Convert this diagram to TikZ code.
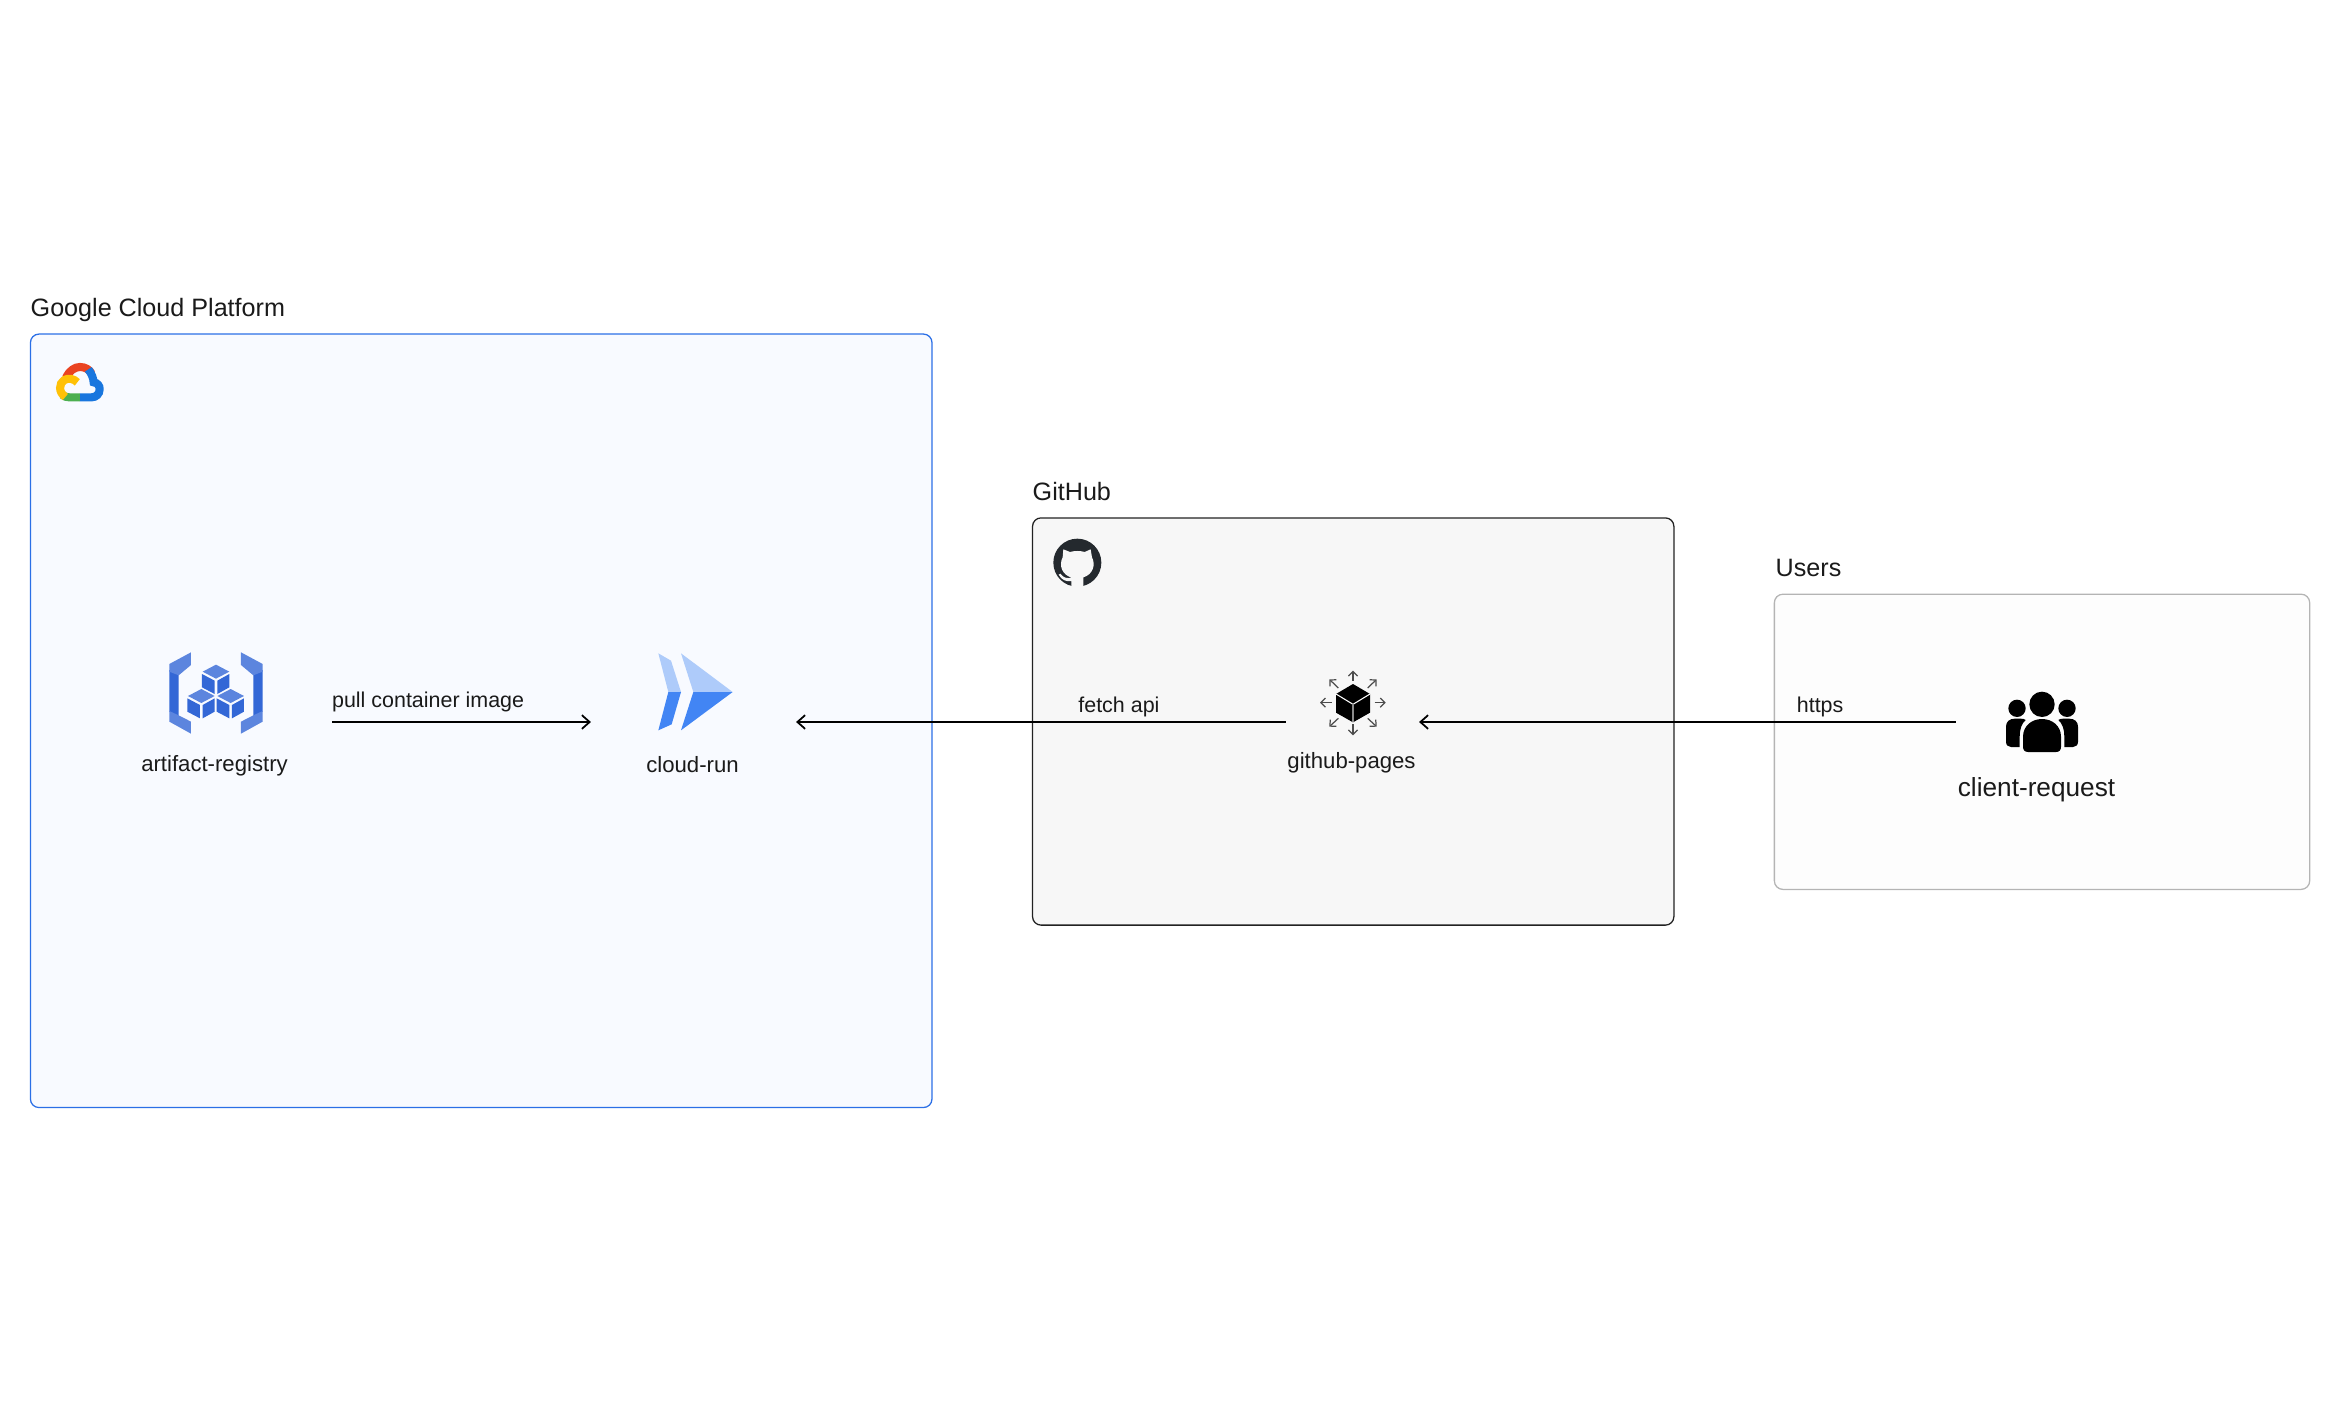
\documentclass[tikz,border=0pt]{standalone}
\usepackage{fontspec}
\setmainfont{Liberation Sans}
\usetikzlibrary{arrows.meta}
\definecolor{gcpfill}{HTML}{F8FAFF}
\definecolor{gcpline}{HTML}{2B6FE6}
\definecolor{hubfill}{HTML}{F7F7F7}
\definecolor{hubline}{HTML}{222222}
\definecolor{hubdark}{HTML}{24292E}
\definecolor{userline}{HTML}{B4B4B4}
\definecolor{userfill}{HTML}{FDFDFD}
\definecolor{artdark}{HTML}{3367D6}
\definecolor{artlight}{HTML}{5C85DE}
\definecolor{runlight}{HTML}{AECBFA}
\definecolor{runblue}{HTML}{4285F4}
\definecolor{textcol}{HTML}{1A1A1A}
\begin{document}
\begin{tikzpicture}[x=0.01cm,y=-0.01cm,
	groupbox/.style={rectangle, rounded corners=0.085cm, line width=0.36pt, inner sep=0pt, outer sep=0pt},
	grouptitle/.style={anchor=west, inner sep=0pt, text=textcol, font=\fontsize{7.15}{9}\selectfont},
	iconbox/.style={rectangle, minimum height=1pt, inner sep=0pt, outer sep=0pt},
	iconlabel/.style={inner sep=0pt, text=textcol, font=\fontsize{6.3}{8}\selectfont},
	linklabel/.style={inner sep=0pt, text=textcol, font=\fontsize{6.1}{8}\selectfont},
	icon/.style={shift={#1}, scale=0.3333},
	link/.style={->, line width=0.5pt, black},
	>={Straight Barb[length=2.2pt,width=3.9pt]}]
	\useasboundingbox (0,0) rectangle (2340,1400);
	
	%Groups
	\node[groupbox, draw=gcpline, fill=gcpfill, minimum width=9.01cm, minimum height=7.73cm] (gcp) at (481.2,720.8) {};
	\node[groupbox, draw=hubline, fill=hubfill, minimum width=6.41cm, minimum height=4.07cm] (hub) at (1353.2,721.5) {};
	\node[groupbox, draw=userline, fill=userfill, minimum width=5.35cm, minimum height=2.95cm] (users) at (2042,741.8) {};
	\node[grouptitle] (gcptitle) at (30,309.5) {Google Cloud Platform};
	\node[grouptitle] (hubtitle) at (1032,492) {GitHub};
	\node[grouptitle] (userstitle) at (1775,568) {Users};
	
	%Google cloud logo
	\begin{scope}[icon={(0,280)}, line width=2.3pt]
		\draw[color={rgb,255:red,234;green,67;blue,33}] (198,294) .. controls (208,271) and (225,261) .. (240,261) .. controls (255,261) and (268,268) .. (275,281);
		\draw[color={rgb,255:red,25;green,118;blue,222}] (265,268) .. controls (276,283) and (280,295) .. (281,307) .. controls (292,308) and (300,318) .. (299,328) .. controls (299,342) and (288,352) .. (275,352) -- (240,352);
		\draw[color={rgb,255:red,76;green,175;blue,80}] (240,352) -- (208,352) .. controls (200,352) and (193,350) .. (186,344);
		\draw[color={rgb,255:red,255;green,193;blue,7}] (232,307) .. controls (222,296) and (205,293) .. (193,300) .. controls (176,310) and (175,337) .. (196,351);
	\end{scope}
	
	%Artifact registry icon
	\begin{scope}[icon={(130,630)}]
		\foreach \m/\o in {1/0,-1/516}{
			\fill[artdark] ({\m*118+\o},120) -- ({\m*146+\o},132) -- ({\m*146+\o},258) -- ({\m*118+\o},245) -- cycle;
			\fill[artlight] ({\m*183+\o},67) -- ({\m*118+\o},102) -- ({\m*118+\o},125) -- ({\m*146+\o},136) -- ({\m*183+\o},105) -- cycle;
			\fill[artlight] ({\m*183+\o},311) -- ({\m*118+\o},275) -- ({\m*118+\o},243) -- ({\m*146+\o},256) -- ({\m*183+\o},275) -- cycle;
		}
		\foreach \dx/\dy in {0/0,-44/73,44/73}{
			\begin{scope}[shift={(\dx,\dy)}]
				\fill[artlight] (258,104) -- (298,125) -- (258,146) -- (218,125) -- cycle;
				\fill[artdark] (216,132) -- (254,152) -- (254,192) -- (216,172) -- cycle;
				\fill[artdark] (262,152) -- (298,132) -- (298,172) -- (262,192) -- cycle;
			\end{scope}
		}
	\end{scope}
	
	%Cloud run icon
	\begin{scope}[icon={(630,630)}]
		\fill[runlight] (85,70) -- (123,92) -- (153,186) -- (115,186) -- cycle;
		\fill[runblue] (115,186) -- (153,186) -- (125,283) -- (85,301) -- cycle;
		\fill[runlight] (153,70) -- (308,186) -- (190,186) -- cycle;
		\fill[runblue] (190,186) -- (308,186) -- (153,301) -- cycle;
	\end{scope}
	
	%GitHub logo
	\begin{scope}[icon={(1020,470)}]
		\fill[hubdark] (172,278) circle (72);
		\fill[hubfill] (130,238) -- (150,246) .. controls (165,242) and (180,242) .. (194,246) -- (212,238) -- (216,262) .. controls (228,285) and (218,314) .. (190,322) -- (190,352) -- (154,352) -- (154,333) .. controls (138,336) and (125,330) .. (116,314) -- (121,311) .. controls (130,324) and (142,326) .. (155,323) .. controls (125,314) and (116,285) .. (128,262) -- cycle;
	\end{scope}
	
	%Pages icon
	\begin{scope}[icon={(1270,650)}]
		\fill[black] (249,102) -- (300,132) -- (300,188) -- (249,217) -- (198,188) -- (198,132) -- cycle;
		\draw[white, line width=0.3pt] (198,132) -- (249,163) -- (300,132);
		\draw[black!45, line width=0.4pt] (249,163) -- (249,215);
		\foreach \xa/\ya/\xb/\yb in {249/92/249/62, 249/222/249/256, 185/158/150/158, 314/158/347/158, 205/114/178/88, 293/114/320/88, 205/205/178/230, 293/205/320/230}
			\draw[black!70, line width=0.35pt, -{Straight Barb[length=1.3pt,width=2.6pt]}] (\xa,\ya) -- (\xb,\yb);
	\end{scope}
	
	%Users icon
	\begin{scope}[icon={(1950,670)}]
		\fill[black] (276,103) circle (38);
		\fill[black] (201,115) circle (26);
		\fill[black] (351,115) circle (26);
		\fill[black] (219,230) -- (219,200) .. controls (219,168) and (245,147) .. (276,147) .. controls (307,147) and (333,168) .. (333,200) -- (333,230) .. controls (333,240) and (328,246) .. (318,246) -- (234,246) .. controls (224,246) and (219,240) .. (219,230) -- cycle;
		\fill[black] (168,215) -- (168,170) .. controls (168,155) and (178,146) .. (195,146) -- (212,146) .. controls (218,146) and (223,147) .. (227,150) .. controls (215,160) and (209,178) .. (209,200) -- (209,231) -- (183,231) .. controls (174,231) and (168,225) .. (168,215) -- cycle;
		\fill[black] (384,215) -- (384,170) .. controls (384,155) and (374,146) .. (357,146) -- (340,146) .. controls (334,146) and (329,147) .. (325,150) .. controls (337,160) and (343,178) .. (343,200) -- (343,231) -- (369,231) .. controls (378,231) and (384,225) .. (384,215) -- cycle;
	\end{scope}
	
	%Nodes
	\node[iconbox, minimum width=2.3cm] (artifact) at (217,722) {};
	\node[iconbox, minimum width=2.05cm] (cloudrun) at (693.5,722) {};
	\node[iconbox, minimum width=1.33cm] (pages) at (1352.5,722) {};
	\node[iconbox, minimum width=1.78cm] (client) at (2045,722) {};
	\node[iconlabel] (artifactlabel) at (214.5,766) {artifact-registry};
	\node[iconlabel] (cloudrunlabel) at (692.5,765) {cloud-run};
	\node[iconlabel] (pageslabel) at (1351.5,763) {github-pages};
	\node[iconlabel, font=\fontsize{7.45}{9}\selectfont] (clientlabel) at (2036.5,790) {client-request};
	
	%Lines
	\draw[link] (artifact) -- node[linklabel, pos=0.371, yshift=0.2cm] (pulllabel) {pull container image} (cloudrun);
	\draw[link] (pages) -- node[linklabel, pos=0.341, yshift=0.155cm] (fetchlabel) {fetch api} (cloudrun);
	\draw[link] (client) -- node[linklabel, pos=0.253, yshift=0.15cm] (httpslabel) {https} (pages);
\end{tikzpicture}
\end{document}
